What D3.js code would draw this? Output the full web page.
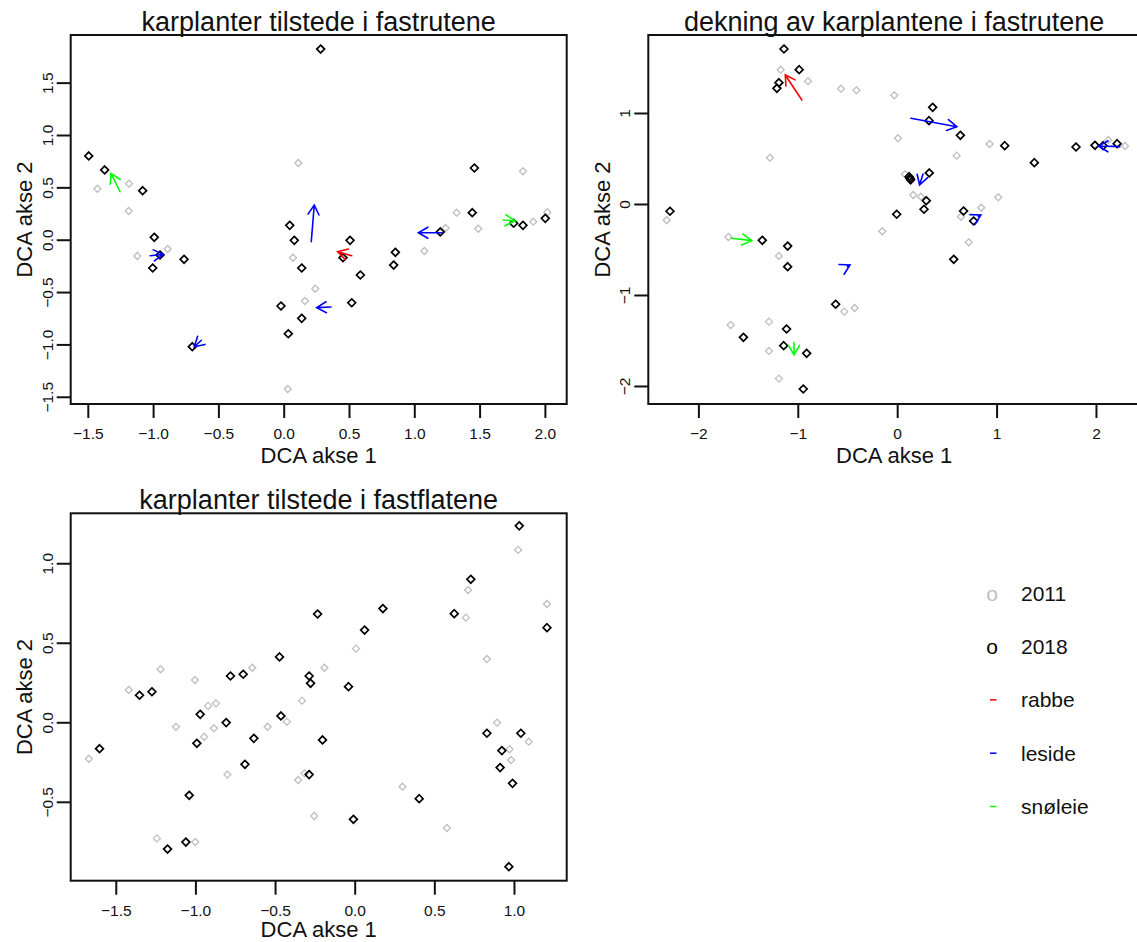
<!DOCTYPE html>
<html>
<head>
<meta charset="utf-8">
<script src="https://cdn.jsdelivr.net/npm/d3@7/dist/d3.min.js"></script>
<style>
body { margin: 0; background: #fff; }
svg { display: block; font-family: "Liberation Sans", Arial, sans-serif; }
</style>
</head>
<body>
<svg id="chart" width="1137" height="942"></svg>
<script>
// ---- data ----
var titles = ['karplanter tilstede i fastrutene', 'dekning av karplantene i fastrutene', 'karplanter tilstede i fastflatene'];
var groupColors = { rabbe: '#ff0000', leside: '#0000ff', 'snøleie': '#00ff00' };
var legendYears = ['2011', '2018'];
var legendGroups = ['rabbe', 'leside', 'snøleie'];

// panel 1: karplanter tilstede i fastrutene
var p1Range = { x: [-1.631, 2.167], y: [-1.569, 1.955] };
var p1TicksX = [-1.5, -1.0, -0.5, 0.0, 0.5, 1.0, 1.5, 2.0];
var p1TicksY = [-1.5, -1.0, -0.5, 0.0, 0.5, 1.0, 1.5];
var p1y2011 = [[-1.427,0.487],[-1.185,0.535],[-1.187,0.274],[-1.121,-0.156],[-0.888,-0.089],[0.112,0.733],
  [0.071,-0.172],[0.242,-0.468],[0.163,-0.585],[0.031,-1.426],[1.240,0.112],[1.325,0.258],[1.077,-0.108],
  [1.490,0.105],[1.832,0.653],[1.911,0.172],[2.019,0.262]];
var p1y2018 = [[0.283,1.821],[-1.493,0.80],[-1.371,0.666],[-1.080,0.468],[-0.991,0.023],[-0.947,-0.146],
  [-1.003,-0.27],[-0.763,-0.187],[-0.700,-1.022],[0.046,0.137],[0.081,-0.006],[0.138,-0.27],[-0.021,-0.633],
  [0.138,-0.751],[0.035,-0.898],[0.508,-0.006],[0.454,-0.172],[0.587,-0.337],[0.521,-0.602],[0.855,-0.12],
  [0.842,-0.242],[1.199,0.074],[1.460,0.685],[1.444,0.258],[1.761,0.157],[1.832,0.137],[2.003,0.204]];
var p1Arrows = [[-1.023,-0.153,-0.922,-0.14,'leside'],[-0.63,-0.96,-0.685,-1.022,'leside'],
  [0.211,-0.019,0.234,0.331,'leside'],[0.362,-0.643,0.253,-0.649,'leside'],[0.521,-0.153,0.413,-0.115,'rabbe'],
  [1.21,0.067,1.031,0.067,'leside'],[-1.253,0.458,-1.322,0.634,'snøleie'],[1.681,0.188,1.771,0.179,'snøleie']];

// panel 2: dekning av karplantene i fastrutene
var p2Range = { x: [-2.504, 2.443], y: [-2.198, 1.857] };
var p2TicksX = [-2, -1, 0, 1, 2];
var p2TicksY = [-2, -1, 0, 1];
var p2y2011 = [[-1.172,1.476],[-0.897,1.348],[-0.565,1.267],[-0.410,1.249],[-1.280,0.509],[-2.319,-0.179],
  [-1.699,-0.363],[-1.190,-0.571],[-0.532,-1.183],[-0.428,-1.143],[-1.675,-1.330],[-1.290,-1.293],
  [-1.290,-1.615],[-1.190,-1.919],[-0.029,1.194],[0.008,0.722],[0.598,0.531],[0.930,0.659],[0.078,0.326],
  [0.162,0.099],[0.239,0.080],[1.017,0.074],[-0.150,-0.300],[0.641,-0.140],[0.846,-0.041],[0.720,-0.421],
  [2.124,0.703],[2.292,0.637]];
var p2y2018 = [[-1.139,1.703],[-0.986,1.476],[-1.190,1.333],[-1.210,1.271],[-2.286,-0.080],[-1.357,-0.399],
  [-1.102,-0.462],[-1.102,-0.689],[-0.619,-1.102],[-1.113,-1.374],[-1.547,-1.465],[-1.142,-1.557],
  [-0.911,-1.641],[-0.945,-2.033],[0.357,1.062],[0.320,0.916],[0.636,0.755],[1.082,0.641],[1.380,0.454],
  [1.799,0.626],[1.990,0.645],[2.072,0.641],[2.213,0.663],[0.129,0.282],[0.120,0.300],[0.135,0.265],
  [0.323,0.341],[0.293,0.036],[0.270,-0.058],[-0.005,-0.113],[0.668,-0.077],[0.769,-0.187],[0.569,-0.608]];
var p2Arrows = [[-0.959,1.143,-1.126,1.418,'rabbe'],[-1.665,-0.377,-1.463,-0.403,'snøleie'],
  [-1.038,-1.524,-1.038,-1.659,'snøleie'],[0.138,0.942,0.60,0.849,'leside'],[0.26,0.33,0.225,0.209,'leside'],
  [0.816,-0.136,0.842,-0.121,'leside'],[-0.501,-0.685,-0.475,-0.670,'leside'],[2.24,0.63,2.025,0.637,'leside']];

// panel 3: karplanter tilstede i fastflatene
var p3Range = { x: [-1.783, 1.331], y: [-0.996, 1.314] };
var p3TicksX = [-1.5, -1.0, -0.5, 0.0, 0.5, 1.0];
var p3TicksY = [-0.5, 0.0, 0.5, 1.0];
var p3y2011 = [[-1.219,0.333],[-1.418,0.203],[-1.003,0.266],[-0.643,0.343],[-0.190,0.343],[-0.920,0.103],
  [-0.871,0.119],[-0.331,0.136],[-1.122,-0.028],[-0.945,-0.091],[-0.884,-0.038],[-0.547,-0.028],[-0.426,0.004],
  [-1.669,-0.229],[-0.799,-0.329],[-0.355,-0.363],[-0.315,-0.321],[-0.254,-0.589],[-1.242,-0.730],
  [-1.001,-0.753],[1.026,1.084],[0.712,0.832],[0.698,0.658],[1.207,0.744],[0.008,0.463],[0.830,0.398],
  [0.894,-0.002],[0.972,-0.170],[0.982,-0.237],[1.093,-0.122],[0.300,-0.405],[0.579,-0.665]];
var p3y2018 = [[-0.233,0.681],[-0.472,0.411],[-0.780,0.291],[-0.700,0.302],[-0.286,0.291],[-0.277,0.245],
  [-1.351,0.170],[-1.273,0.192],[-0.970,0.050],[-0.463,0.040],[-0.807,-0.002],[-0.991,-0.132],[-0.633,-0.101],
  [-0.202,-0.111],[-1.602,-0.166],[-0.689,-0.264],[-0.286,-0.329],[-1.039,-0.459],[-1.060,-0.753],
  [-1.175,-0.797],[1.033,1.235],[0.729,0.899],[0.625,0.683],[1.207,0.595],[0.177,0.715],[0.062,0.580],
  [-0.039,0.224],[-0.008,-0.610],[0.405,-0.480],[0.830,-0.069],[1.043,-0.069],[0.924,-0.178],[0.913,-0.285],
  [0.991,-0.384],[0.968,-0.908]];
var p3Arrows = [];

// ---- layout ----
var panels = [
  { title: titles[0], box: [70.7, 35, 566.7, 404], range: p1Range, tx: p1TicksX, ty: p1TicksY,
    fmt: d3.format('.1f'), grey: p1y2011, black: p1y2018, arrows: p1Arrows },
  { title: titles[1], box: [648.3, 35, 1140, 404], range: p2Range, tx: p2TicksX, ty: p2TicksY,
    fmt: d3.format('d'), grey: p2y2011, black: p2y2018, arrows: p2Arrows },
  { title: titles[2], box: [70.7, 513.3, 566.7, 880.7], range: p3Range, tx: p3TicksX, ty: p3TicksY,
    fmt: d3.format('.1f'), grey: p3y2011, black: p3y2018, arrows: p3Arrows }
];

var svg = d3.select('#chart');
var ink = '#111';

function diamond(r) {
  return 'M0,' + (-r) + 'L' + r + ',0L0,' + r + 'L' + (-r) + ',0Z';
}

function drawPanel(p) {
  var l = p.box[0], t = p.box[1], r = p.box[2], b = p.box[3];
  var x = d3.scaleLinear().domain(p.range.x).range([l, r]);
  var y = d3.scaleLinear().domain(p.range.y).range([b, t]);
  var g = svg.append('g');

  // 2011 points (grey), then 2018 (black)
  g.append('g').selectAll('path').data(p.grey).enter().append('path')
    .attr('d', diamond(3.5))
    .attr('transform', function(d) { return 'translate(' + x(d[0]) + ',' + y(d[1]) + ')'; })
    .attr('fill', 'none').attr('stroke', '#bebebe').attr('stroke-width', 1.3);
  g.append('g').selectAll('path').data(p.black).enter().append('path')
    .attr('d', diamond(3.9))
    .attr('transform', function(d) { return 'translate(' + x(d[0]) + ',' + y(d[1]) + ')'; })
    .attr('fill', 'none').attr('stroke', '#000').attr('stroke-width', 1.7);

  // arrows 2011 -> 2018 per group, head like R arrows()
  var head = 11, ang = Math.PI / 6;
  var ag = g.append('g').attr('fill', 'none').attr('stroke-width', 1.6).attr('stroke-linecap', 'round');
  p.arrows.forEach(function(a) {
    var x0 = x(a[0]), y0 = y(a[1]), x1 = x(a[2]), y1 = y(a[3]);
    var th = Math.atan2(y1 - y0, x1 - x0);
    var path = d3.path();
    path.moveTo(x0, y0); path.lineTo(x1, y1);
    path.moveTo(x1 - head * Math.cos(th - ang), y1 - head * Math.sin(th - ang));
    path.lineTo(x1, y1);
    path.lineTo(x1 - head * Math.cos(th + ang), y1 - head * Math.sin(th + ang));
    ag.append('path').attr('d', path.toString()).attr('stroke', groupColors[a[4]]);
  });

  // box
  g.append('rect').attr('x', l).attr('y', t).attr('width', r - l).attr('height', b - t)
    .attr('fill', 'none').attr('stroke', ink).attr('stroke-width', 2);

  // x axis
  var ax = g.append('g').attr('transform', 'translate(0,' + b + ')')
    .call(d3.axisBottom(x).tickValues(p.tx).tickSize(14).tickPadding(10).tickFormat(p.fmt));
  ax.select('.domain').remove();
  ax.selectAll('.tick line').attr('stroke', ink).attr('stroke-width', 2);
  ax.selectAll('.tick text').attr('font-size', 15.5).attr('fill', ink);

  // y axis, labels parallel to the axis
  var ay = g.append('g').attr('transform', 'translate(' + l + ',0)')
    .call(d3.axisLeft(y).tickValues(p.ty).tickSize(14).tickFormat(p.fmt));
  ay.select('.domain').remove();
  ay.selectAll('.tick line').attr('stroke', ink).attr('stroke-width', 2);
  ay.selectAll('.tick text')
    .attr('transform', 'rotate(-90)')
    .attr('x', 0).attr('y', -18).attr('dy', 0)
    .attr('text-anchor', 'middle')
    .attr('font-size', 15.5).attr('fill', ink);
  ax.attr('font-family', null);
  ay.attr('font-family', null);

  // title and axis titles
  g.append('text').attr('x', (l + r) / 2).attr('y', t - 4).attr('text-anchor', 'middle')
    .attr('font-size', 27).attr('fill', ink).text(p.title);
  g.append('text').attr('x', (l + r) / 2).attr('y', Math.min(b + 59, 937)).attr('text-anchor', 'middle')
    .attr('font-size', 22).attr('fill', ink).text('DCA akse 1');
  g.append('text').attr('transform', 'translate(' + (l - 38.5) + ',' + ((t + b) / 2) + ') rotate(-90)')
    .attr('text-anchor', 'middle').attr('font-size', 22).attr('fill', ink).text('DCA akse 2');
}

panels.forEach(drawPanel);

// ---- legend ----
var leg = svg.append('g').attr('font-size', 21).attr('fill', ink);
var legY = d3.scalePoint().domain(legendYears.concat(legendGroups)).range([600.7, 814]);
legendYears.forEach(function(yr, i) {
  leg.append('text').attr('x', 992).attr('y', legY(yr)).attr('text-anchor', 'middle')
    .attr('fill', i === 0 ? '#bebebe' : '#000').text('o');
  leg.append('text').attr('x', 1021).attr('y', legY(yr)).text(yr);
});
legendGroups.forEach(function(gr) {
  leg.append('line').attr('x1', 990).attr('x2', 996.5)
    .attr('y1', legY(gr) - 7.5).attr('y2', legY(gr) - 7.5)
    .attr('stroke', groupColors[gr]).attr('stroke-width', 1.5);
  leg.append('text').attr('x', 1021).attr('y', legY(gr)).text(gr);
});
</script>
</body>
</html>
